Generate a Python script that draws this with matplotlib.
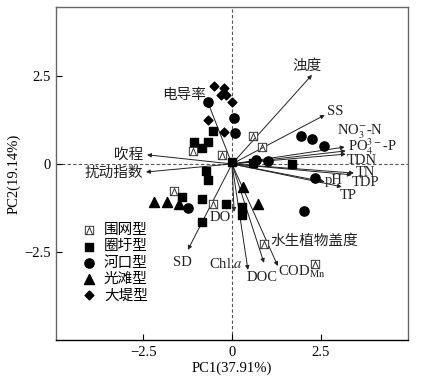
import numpy as np
import matplotlib
matplotlib.use("Agg")
import matplotlib.pyplot as plt
from matplotlib.path import Path

plt.rcParams['font.family'] = ['Liberation Serif', 'Noto Sans CJK SC']
plt.rcParams['font.weight'] = 'light'
plt.rcParams['mathtext.fontset'] = 'stix'
plt.rcParams['axes.unicode_minus'] = True

# === SAMPLE SCORES (PC1, PC2) ===
weiwang_x = [0.59, 0.84, -1.10, -0.28, -1.63, -0.53, 0.90, 2.33]
weiwang_y = [0.80, 0.48, 0.37, 0.26, -0.77, -1.14, -2.27, -2.84]

quanyu_x = [-0.53, -1.07, -0.67, -0.84, 0.00, 0.59, 1.69, -0.73, -0.67, -1.40, -0.84, -0.17, 0.28, 0.28, -0.84]
quanyu_y = [0.94, 0.63, 0.63, 0.45, 0.06, 0.03, 0.00, -0.20, -0.45, -0.94, -0.99, -1.14, -1.22, -1.45, -1.65]

hekou_x = [-0.67, 0.06, 0.08, 1.94, 2.25, 2.58, 1.01, 0.67, 2.33, 2.02, -1.24]
hekou_y = [1.76, 1.31, 0.88, 0.80, 0.71, 0.51, 0.09, 0.11, -0.40, -1.34, -1.25]

guangtan_x = [-2.19, -1.83, -1.49, 0.31, 0.73]
guangtan_y = [-1.08, -1.08, -1.14, -0.65, -1.14]

dadi_x = [-0.51, -0.22, -0.31, -0.17, 0.00, -0.67, -0.22]
dadi_y = [2.22, 2.16, 1.96, 1.96, 1.76, 1.25, 0.91]

# === LOADINGS (arrows) ===
var_names = ['浊度', 'SS', 'NO3', 'PO4', 'TDN', 'TN', 'TDP', 'TP', 'pH',
             '吹程', '扰动指数', '电导率', 'SD', 'DO', 'Chla', 'DOC', 'COD']
var_x = [2.25, 2.61, 3.17, 3.20, 3.20, 3.43, 3.37, 3.09, 2.61,
         -2.39, -2.42, -0.67, -1.24, 0.06, 0.45, 0.90, 1.29]
var_y = [2.53, 1.39, 0.48, 0.37, 0.28, -0.26, -0.31, -0.65, -0.51,
         0.26, -0.23, 1.73, -2.44, -1.36, -3.01, -2.81, -2.90]

# label text, x, y, ha
labels = [
    ('浊度', 2.11, 2.78, 'center'),
    ('SS', 2.67, 1.48, 'left'),
    (r'NO$_3^{-}$-N', 2.95, 0.90, 'left'),
    (r'PO$_4^{3-}$-P', 3.26, 0.50, 'left'),
    ('TDN', 3.23, 0.11, 'left'),
    ('TN', 3.48, -0.23, 'left'),
    ('TDP', 3.37, -0.52, 'left'),
    ('TP', 3.03, -0.91, 'left'),
    ('pH', 2.61, -0.48, 'left'),
    ('吹程', -2.50, 0.26, 'right'),
    ('扰动指数', -2.50, -0.26, 'right'),
    ('电导率', -1.35, 1.96, 'center'),
    ('SD', -1.38, -2.81, 'center'),
    ('DO', -0.34, -1.53, 'center'),
    (r'Chl.$a$', -0.17, -2.84, 'center'),
    ('DOC', 0.84, -3.24, 'center'),
    (r'COD$_{\rm Mn}$', 1.29, -3.07, 'left'),
    ('水生植物盖度', 1.07, -2.19, 'left'),
]

# square with a triangle inside
box_tri = Path(
    [(-1, -1), (1, -1), (1, 1), (-1, 1), (-1, -1),
     (-0.75, -1), (0, 0.75), (0.75, -1)],
    [Path.MOVETO, Path.LINETO, Path.LINETO, Path.LINETO, Path.CLOSEPOLY,
     Path.MOVETO, Path.LINETO, Path.LINETO])

fig = plt.figure(figsize=(4.21, 3.85), dpi=100)
ax = fig.add_axes([0.133, 0.117, 0.836, 0.865])

ax.axhline(0, color='#555555', ls=(0, (3, 2)), lw=0.8, zorder=1)
ax.axvline(0, color='#555555', ls=(0, (3, 2)), lw=0.8, zorder=1)

for x, y in zip(var_x, var_y):
    ax.annotate('', xy=(x, y), xytext=(0, 0),
                arrowprops=dict(arrowstyle='-|>', lw=0.7, color='#222222',
                                mutation_scale=6, shrinkA=0, shrinkB=0),
                zorder=2)

ax.scatter(weiwang_x, weiwang_y, marker=box_tri, s=36, facecolor='white',
           edgecolor='#333333', linewidths=0.7, label='围网型', zorder=3)
ax.scatter(quanyu_x, quanyu_y, marker='s', s=38, color='black', label='圈圩型', zorder=3)
ax.scatter(hekou_x, hekou_y, marker='o', s=44, color='black', label='河口型', zorder=3)
ax.scatter(guangtan_x, guangtan_y, marker='^', s=52, color='black', label='光滩型', zorder=3)
ax.scatter(dadi_x, dadi_y, marker='D', s=20, color='black', label='大堤型', zorder=3)

for txt, x, y, ha in labels:
    ax.text(x, y, txt, ha=ha, va='center', fontsize=10.5, color='#222222', zorder=4)

ax.set_xlim(-4.95, 4.95)
ax.set_ylim(-5.0, 4.46)
ax.set_xticks([-2.5, 0, 2.5])
ax.set_xticklabels(['\u22122.5', '0', '2.5'])
ax.set_yticks([-2.5, 0, 2.5])
ax.set_yticklabels(['\u22122.5', '0', '2.5'])
ax.tick_params(direction='in', length=4, width=0.8, labelsize=10.5, pad=4)

for side in ['left', 'right', 'top']:
    ax.spines[side].set_color('#666666')
    ax.spines[side].set_linewidth(1.0)
ax.spines['bottom'].set_color('black')
ax.spines['bottom'].set_linewidth(1.0)

ax.set_xlabel('PC1(37.91%)', fontsize=10.5, labelpad=2)
ax.set_ylabel('PC2(19.14%)', fontsize=10.5, labelpad=2)

ax.legend(loc='upper left', bbox_to_anchor=(0.078, 0.348), frameon=False,
          fontsize=10.5, handlelength=0.8, handletextpad=0.6,
          labelspacing=0.2, borderpad=0, borderaxespad=0)

fig.savefig('out.png', dpi=100)
